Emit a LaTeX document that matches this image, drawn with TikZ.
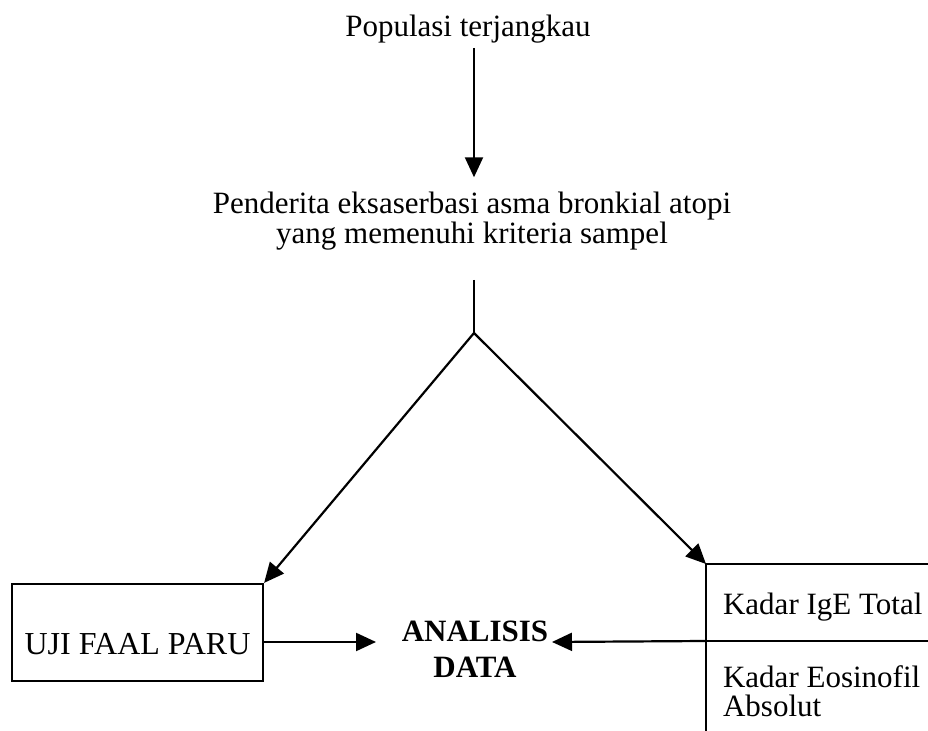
\documentclass[tikz,border=0pt]{standalone}
\usepackage{fontspec}
\setmainfont{Liberation Serif}
\usetikzlibrary{arrows.meta}

\begin{document}
\begin{tikzpicture}[x=0.5pt,y=-0.5pt,line width=1.1pt,
        every node/.style={font=\fontsize{15.5}{14}\selectfont, inner sep=0pt},
        >={Triangle[length=10pt,width=9pt]}]
                \useasboundingbox (0,0) rectangle (928,731);
                \node[anchor=base] (pop) at (468,37) {Populasi terjangkau};
                \node[anchor=base, align=center] (pend) at (472,244) {Penderita eksaserbasi asma bronkial atopi\\yang memenuhi kriteria sampel};
                \coordinate (apex) at (474,333);
                \draw[->, shorten <=1.5pt, shorten >=7pt] (pop.south -| apex) -- (pend.north -| apex);
                \draw[shorten <=14pt] (pend.south -| apex) -- (apex);
                % kotak kiri
                \node[draw, minimum width=125.5pt, minimum height=48.5pt, text height=22.5pt, font=\fontsize{16}{14}\selectfont] (uji) at (137.5,632.5) {UJI FAAL PARU};
                \node[anchor=base, align=center, font=\fontsize{15.5}{18}\selectfont\bfseries] (ana) at (475,678) {ANALISIS\\DATA};
                % kotak kanan
                \coordinate (kb) at (706,731);
                \coordinate (kt) at (706,564);
                \coordinate (kr) at (928,564);
                \coordinate (kml) at (706,641);
                \coordinate (kmr) at (928,641);
                \draw (kb) -- (kt) -- (kr);
                \draw (kml) -- (kmr);
                \node[anchor=base west] (ige) at (722,615) {Kadar IgE Total};
                \node[anchor=base west, align=left, font=\fontsize{15.5}{14.5}\selectfont] (eos) at (722,717) {Kadar Eosinofil\\Absolut};
                % panah
                \coordinate (inL) at (376,642);
                \coordinate (inR) at (552,642);
                \draw[->] (apex) -- (uji.north east);
                \draw[->] (apex) -- (kt);
                \draw[->] (uji.east |- inL) -- (inL);
                \draw[->] (kml) -- (inR);
            \end{tikzpicture}
\end{document}
